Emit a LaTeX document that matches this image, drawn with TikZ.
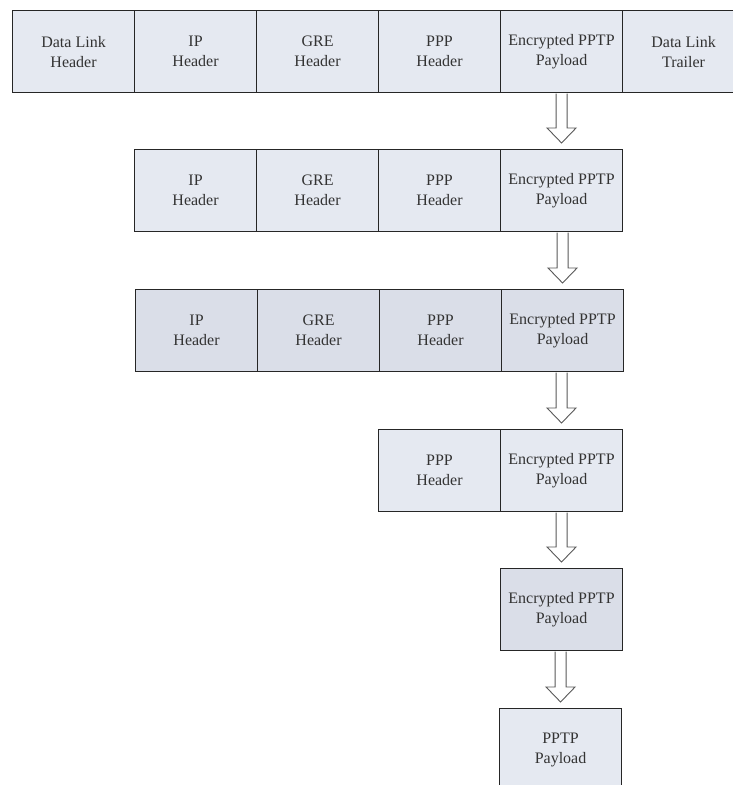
\documentclass[tikz,border=0pt]{standalone}
\usepackage{fontspec}
\setmainfont{Liberation Serif}
\usetikzlibrary{calc}
\begin{document}
\begin{tikzpicture}[x=1pt,y=-1pt,
  cell/.style={draw=black!85, line width=1.1pt, fill=cellfill, anchor=north west,
    minimum width=122pt, minimum height=82pt, inner sep=0pt,
    align=center, text=black!80, font=\fontsize{16}{20}\selectfont},
  darkcell/.style={cell, fill=cellfilld},
  blockarrow/.style={draw=black!65, line width=0.9pt, fill=white, line join=miter}
]
\definecolor{cellfill}{HTML}{E5E9F1}
\definecolor{cellfilld}{HTML}{DADEE8}
\useasboundingbox (0,0) rectangle (732,785);
\fill[white] (0,0) rectangle (732,785);
% row 1
\node[cell] (r1a) at (12,10) {Data Link\\Header};
\node[cell] (r1b) at (134,10) {IP\\Header};
\node[cell] (r1c) at (256,10) {GRE\\Header};
\node[cell] (r1d) at (378,10) {PPP\\Header};
\node[cell] (r1e) at (500,10) {Encrypted PPTP\\Payload};
\node[cell] (r1f) at (622,10) {Data Link\\Trailer};
% row 2
\node[cell] (r2a) at (134,149) {IP\\Header};
\node[cell] (r2b) at (256,149) {GRE\\Header};
\node[cell] (r2c) at (378,149) {PPP\\Header};
\node[cell] (r2d) at (500,149) {Encrypted PPTP\\Payload};
% row 3
\node[darkcell] (r3a) at (135,289) {IP\\Header};
\node[darkcell] (r3b) at (257,289) {GRE\\Header};
\node[darkcell] (r3c) at (379,289) {PPP\\Header};
\node[darkcell] (r3d) at (501,289) {Encrypted PPTP\\Payload};
% row 4
\node[cell] (r4a) at (378,429) {PPP\\Header};
\node[cell] (r4b) at (500,429) {Encrypted PPTP\\Payload};
% row 5
\node[darkcell] (r5a) at (500,568) {Encrypted PPTP\\Payload};
% row 6
\node[cell] (r6a) at (499,708) {PPTP\\Payload};
% arrows
\foreach \a/\b in {r1e/r2d, r2d/r3d, r3d/r4b, r4b/r5a, r5a/r6a}{
  \draw[blockarrow]
    ($(\a.south -| \b.north)+(-5.5,0.6)$) -- ($(\b.north)+(-5.5,-21)$) -- ($(\b.north)+(-14.5,-21)$)
    -- ($(\b.north)+(0,-6)$) -- ($(\b.north)+(14.5,-21)$) -- ($(\b.north)+(5.5,-21)$)
    -- ($(\a.south -| \b.north)+(5.5,0.6)$);
}
\end{tikzpicture}
\end{document}
